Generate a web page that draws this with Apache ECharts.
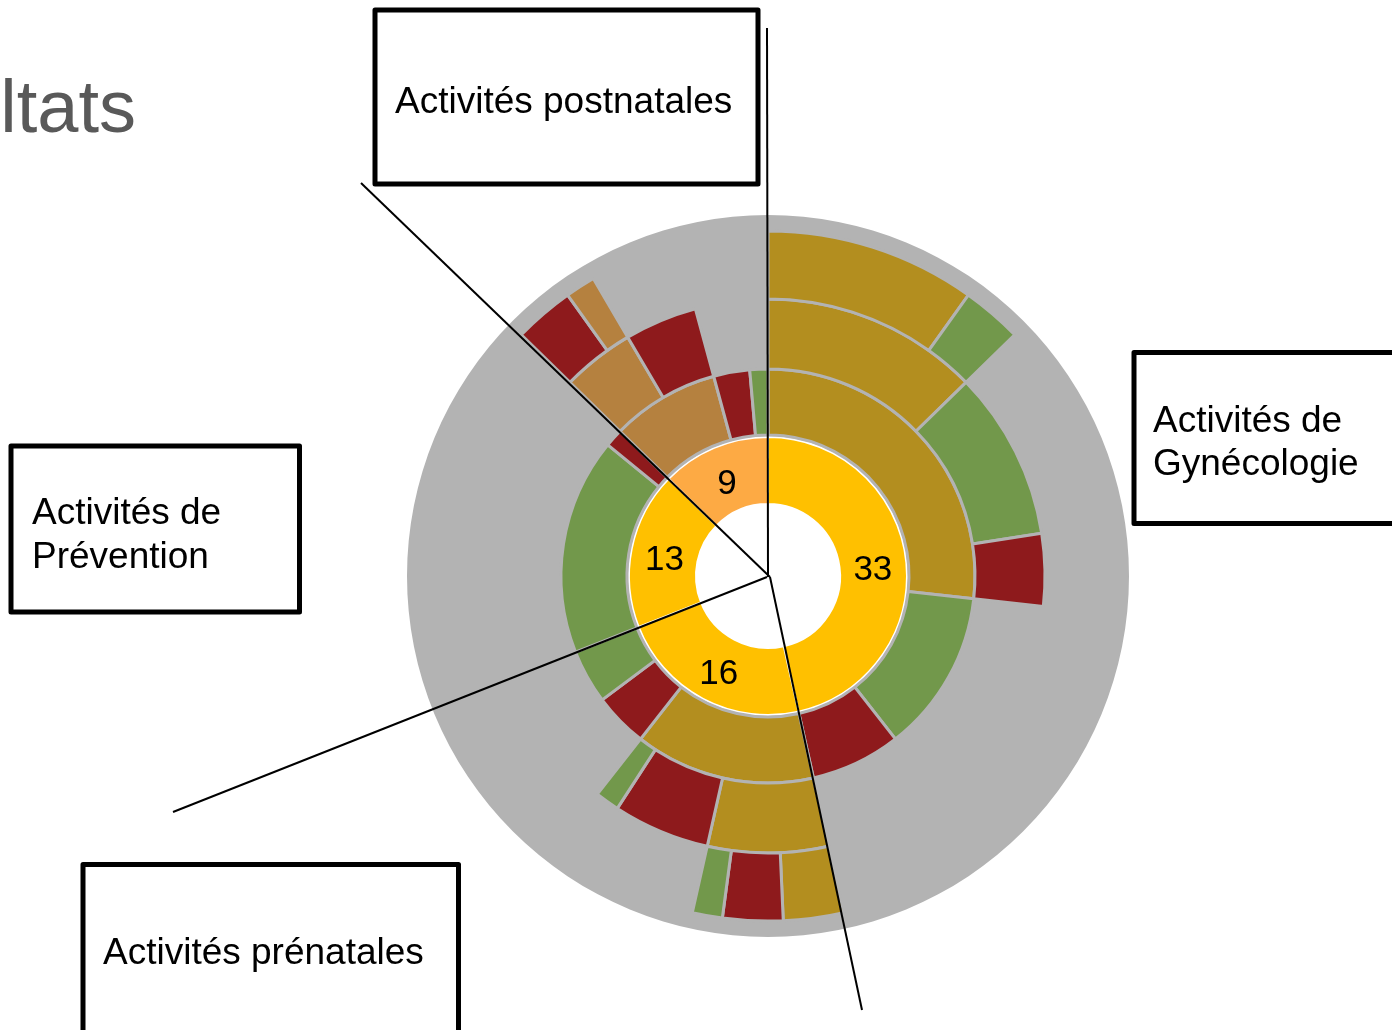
<!DOCTYPE html>
<html>
<head>
<meta charset="utf-8">
<script src="https://cdn.jsdelivr.net/npm/echarts@6/dist/echarts.min.js"></script>
<style>
  html, body { margin: 0; padding: 0; background: #fff; }
  #chart { width: 1392px; height: 1030px; }
</style>
</head>
<body>
<div id="chart"></div>
<script>
// inner ring: activity groups, clockwise from the top
const groupNames = ['Activités de Gynécologie', 'Activités prénatales', 'Activités de Prévention', 'Activités postnatales']
const groupValues = [33, 16, 13, 9]

// outer rings per group; each ring nests under the first item of the ring before it
const gynecoKinds = [['olive', 'vert', 'rouge'], ['olive', 'vert', 'rouge'], ['olive', 'vert']]
const gynecoValues = [[19, 9, 5], [9, 7, 3], [7, 2]]
const prenatKinds = [['olive', 'rouge', 'vert'], ['olive', 'rouge', 'vert'], ['olive', 'rouge', 'vert']]
const prenatValues = [[10, 3, 3], [5, 4, 1], [2, 2, 1]]
const preventKinds = [['vert', 'rouge']]
const preventValues = [[12, 1]]
const postnatKinds = [['brun', 'rouge', 'vert'], ['brun', 'rouge'], ['rouge', 'brun']]
const postnatValues = [[6, 2, 1], [3, 3], [2, 1]]

const groupColors = ['#FFC000', '#FFC000', '#FFC000', '#FDAA44']
const kindColors = { olive: '#B38E1F', vert: '#72984B', rouge: '#8E1A1C', brun: '#B5813F' }
const GRAY = '#B3B3B3'
const FONT = '"Liberation Sans", Arial, Helvetica, sans-serif'
const CX = 768
const CY = 576

function buildGroup(i, kinds, values) {
  let children = null
  for (let lvl = kinds.length - 1; lvl >= 0; lvl--) {
    const ring = kinds[lvl].map((k, j) => ({
      name: k,
      value: values[lvl][j],
      itemStyle: { color: kindColors[k] },
    }))
    if (children) ring[0].children = children
    children = ring
  }
  return {
    name: groupNames[i],
    value: groupValues[i],
    itemStyle: { color: groupColors[i] },
    children,
  }
}

const data = [
  buildGroup(0, gynecoKinds, gynecoValues),
  buildGroup(1, prenatKinds, prenatValues),
  buildGroup(2, preventKinds, preventValues),
  buildGroup(3, postnatKinds, postnatValues),
]

// text helper: (x, baseline) -> zrender text centred on its middle line
function label(text, x, baseline, size, color, align) {
  return {
    type: 'text',
    z: 20,
    x,
    y: baseline - size * 0.35 + 4,
    style: {
      text,
      font: size + 'px ' + FONT,
      fill: color || '#000',
      textAlign: align || 'left',
      textVerticalAlign: 'middle',
    },
  }
}

function box(x, y, w, h) {
  return {
    type: 'rect',
    z: 15,
    shape: { x, y, width: w, height: h },
    style: { fill: '#fff', stroke: '#000', lineWidth: 5, lineJoin: 'round' },
  }
}

function leader(x1, y1, x2, y2) {
  return {
    type: 'line',
    z: 12,
    shape: { x1, y1, x2, y2 },
    style: { stroke: '#000', lineWidth: 2 },
  }
}

const ringStyle = { borderColor: GRAY, borderWidth: 3 }

const chart = echarts.init(document.getElementById('chart'), null, { renderer: 'canvas' })
chart.setOption({
  animation: false,
  backgroundColor: '#fff',
  graphic: [
    {
      type: 'ring',
      z: 0,
      silent: true,
      shape: { cx: CX, cy: CY, r: 361, r0: 139 },
      style: { fill: GRAY },
    },
    leader(767, 28, 768, 577),
    leader(361, 183, 770, 577),
    leader(173, 812, 767, 577),
    leader(770, 577, 862, 1010),
    box(375, 10, 383, 174),
    box(1134, 352.5, 300, 171),
    box(11, 446, 288.5, 166),
    box(83, 864.5, 375.5, 220),
    label('Résultats', 136, 133, 74, '#595959', 'right'),
    label('Activités postnatales', 395, 112, 37),
    label('Activités de', 1153, 431, 37),
    label('Gynécologie', 1153, 474, 37),
    label('Activités de', 32, 523, 37),
    label('Prévention', 32, 567, 37),
    label('Activités prénatales', 103, 963, 37),
  ],
  series: [
    {
      type: 'sunburst',
      center: [CX, CY],
      radius: [72, 345],
      startAngle: 90,
      clockwise: true,
      sort: null,
      nodeClick: false,
      data,
      label: { show: false },
      levels: [
        {},
        {
          r0: 72,
          r: 139,
          itemStyle: { borderColor: '#fff', borderWidth: 2 },
          label: {
            show: true,
            rotate: 0,
            color: '#000',
            fontSize: 35,
            lineHeight: 11,
            fontFamily: FONT,
            // empty first line nudges the number a little below the ring middle
            formatter: p => '\n' + p.value,
          },
        },
        { r0: 141, r: 207, itemStyle: ringStyle, label: { show: false } },
        { r0: 207, r: 277, itemStyle: ringStyle, label: { show: false } },
        { r0: 277, r: 345, itemStyle: ringStyle, label: { show: false } },
      ],
    },
  ],
})
</script>
</body>
</html>
